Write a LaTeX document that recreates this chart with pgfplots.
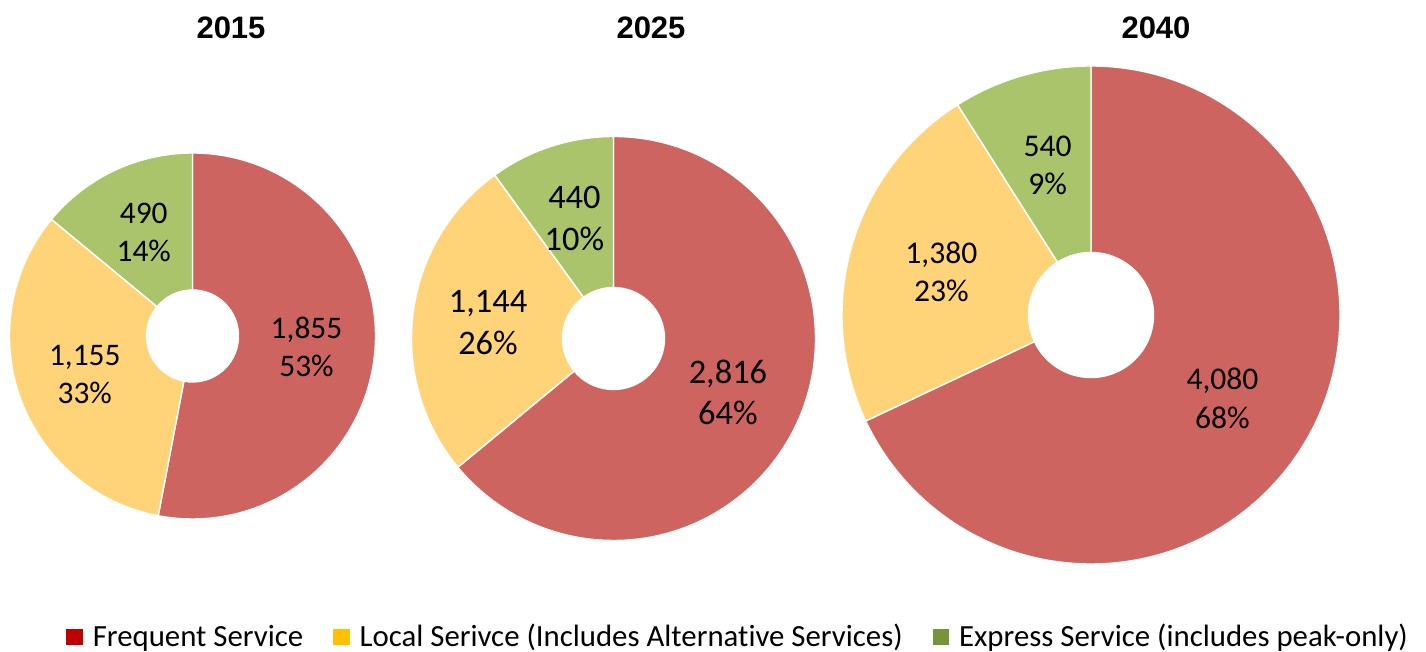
\documentclass[border=0pt]{standalone}
\usepackage{pgfplots}
\pgfplotsset{compat=1.18}
\usepackage{pgfplotstable}
\usepackage{fontspec}
\setmainfont[Ligatures={NoCommon}]{Carlito}
\newfontfamily\arialfont{Liberation Sans}

\definecolor{freqpie}{HTML}{CD6460}
\definecolor{localpie}{HTML}{FFD479}
\definecolor{exprpie}{HTML}{A9C46A}
\definecolor{freqkey}{HTML}{C00000}
\definecolor{localkey}{HTML}{FFC000}
\definecolor{exprkey}{HTML}{77933C}

% one row per donut; cx, cy, R, r, tx in picture units (1 unit = 0.5pt); fs = label size in pt
\pgfplotstableread{
year freq local express cx    cy    R   r    tx   fs
2015 1855 1155  490     192.5 316   183 46   231  15.7
2025 2816 1144  440     613.5 313.5 202 51   651  17.2
2040 4080 1380  540     1091  337   249 62.5 1156 15.8
}\donutdata

\newcommand\getel[3]{\pgfplotstablegetelem{#1}{#2}\of\donutdata\let#3\pgfplotsretval}

% ring sector, clockwise from 12 o'clock: colour, from, to
\newcommand\slice[3]{%
  \fill[#1, draw=white, line width=0.7pt]
    (axis cs:{\cx+\rout*cos(90-#2)},{\cy+\rout*sin(90-#2)})
    arc[start angle={90-#2}, end angle={90-#3}, radius={\rout*0.5pt}]
    -- (axis cs:{\cx+\rin*cos(90-#3)},{\cy+\rin*sin(90-#3)})
    arc[start angle={90-#3}, end angle={90-#2}, radius={\rin*0.5pt}]
    -- cycle;}

\newcommand\slicelabel[3]{%
  \pgfmathsetmacro\mid{(#1+#2)/2}
  \pgfmathsetmacro\dd{(\rout+\rin)/2}
  \pgfmathtruncatemacro\pc{round(#3/\tot*100)}
  \pgfmathsetmacro\ls{\fs*1.21}
  \node[align=center, font=\fontsize{\fs}{\ls}\selectfont, inner sep=0pt]
    at (axis cs:{\cx+\dd*cos(90-\mid)},{\cy+\dd*sin(90-\mid)})
    {\pgfmathprintnumber[assume math mode=true,1000 sep={,}]{#3}\\\pc\%};}

\newcommand\donut[1]{%
  \getel{#1}{freq}\vA \getel{#1}{local}\vB \getel{#1}{express}\vC
  \getel{#1}{cx}\cx \getel{#1}{cy}\cy \getel{#1}{R}\rout \getel{#1}{r}\rin
  \getel{#1}{tx}\tx \getel{#1}{year}\yr \getel{#1}{fs}\fs
  \pgfmathsetmacro\tot{\vA+\vB+\vC}
  \pgfmathsetmacro\aB{\vA/\tot*360}
  \pgfmathsetmacro\aC{\aB+\vB/\tot*360}
  \slice{freqpie}{0}{\aB}
  \slice{localpie}{\aB}{\aC}
  \slice{exprpie}{\aC}{360}
  \slicelabel{0}{\aB}{\vA}
  \slicelabel{\aB}{\aC}{\vB}
  \slicelabel{\aC}{360}{\vC}
  \node[font=\arialfont\bfseries\fontsize{15.5}{18}\selectfont, inner sep=0pt]
    at (axis cs:\tx,624.5) {\yr};}

\begin{document}
\begin{tikzpicture}
\begin{axis}[
    name=ax,
    x=0.5pt, y=0.5pt,
    xmin=0, xmax=1426, ymin=0, ymax=652,
    hide axis, clip=false,
    legend columns=3,
    legend cell align=left,
    legend style={at={(axis cs:66,15)}, anchor=west, draw=none, fill=none,
      inner sep=0pt, font=\fontsize{15.4}{18}\selectfont,
      /tikz/every odd column/.append style={column sep=3pt},
      /tikz/every even column/.append style={column sep=13pt}},
    legend image code/.code={\fill[#1] (0pt,-4.1pt) rectangle (8.2pt,4.1pt);}
]
\pgfplotsextra{\donut{0}\donut{1}\donut{2}}
\addlegendimage{fill=freqkey, draw=none}
\addlegendentry{Frequent Service}
\addlegendimage{fill=localkey, draw=none}
\addlegendentry{Local Serivce (Includes Alternative Services)}
\addlegendimage{fill=exprkey, draw=none}
\addlegendentry{Express Service (includes peak-only)}
\end{axis}
\pgfresetboundingbox
\path (ax.south west) rectangle (ax.north east);
\end{tikzpicture}
\end{document}
